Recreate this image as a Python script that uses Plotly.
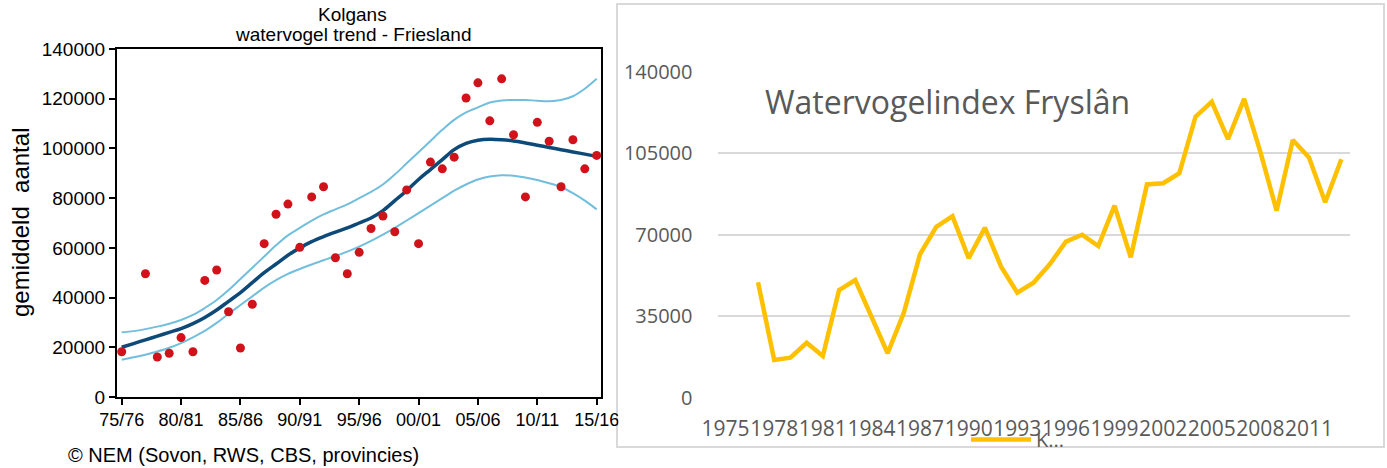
import plotly.graph_objects as go

W, H = 1387, 468

# ---------------- data: left chart (Kolgans, NEM trend) ----------------
point_years = [1975, 1977, 1978, 1979, 1980, 1981, 1982, 1983, 1984, 1985, 1986,
               1987, 1988, 1989, 1990, 1991, 1992, 1993, 1994, 1995, 1996, 1997,
               1998, 1999, 2000, 2001, 2002, 2003, 2004, 2005, 2006, 2007, 2008,
               2009, 2010, 2011, 2012, 2013, 2014, 2015]
point_values = [18200, 49600, 16100, 17600, 23900, 18200, 46900, 51100, 34300, 19700, 37300,
                61700, 73500, 77600, 60200, 80500, 84600, 56000, 49600, 58200, 67800, 72800,
                66500, 83300, 61700, 94500, 91800, 96500, 120300, 126400, 111100, 128000, 105500,
                80500, 110500, 102900, 84600, 103500, 91800, 97200]

trend_years = list(range(1975, 2016))
trend_values = [20000, 21500, 23000, 24500, 26000, 27500, 29500, 32000, 35000, 38500,
                42000, 46000, 50000, 53500, 57000, 60000, 62500, 64500, 66300, 68000,
                70000, 72000, 75000, 79000, 83000, 87500, 91500, 95500, 99500, 102000,
                103300, 103700, 103500, 103000, 102200, 101300, 100400, 99500, 98600, 97700,
                96800]
upper_values = [26000, 26500, 27300, 28300, 29500, 31000, 33000, 35800, 39000, 43000,
                47500, 52000, 56500, 61000, 65000, 68000, 71000, 73500, 75500, 77500,
                80000, 82500, 85500, 89500, 94000, 98500, 103000, 107500, 111500, 114500,
                116500, 118500, 119300, 119500, 119500, 119200, 119000, 119500, 121000, 124000,
                128000]
lower_values = [15000, 16000, 17000, 18300, 19800, 21700, 24000, 26600, 29800, 33500,
                37000, 40500, 44000, 47000, 49500, 51500, 53300, 55000, 56700, 58500,
                60500, 62800, 65300, 68000, 71000, 74000, 77000, 80000, 83000, 85500,
                87500, 88700, 89200, 89000, 88300, 87300, 86000, 84500, 82000, 79000,
                75500]

left_tick_years = [1975, 1980, 1985, 1990, 1995, 2000, 2005, 2010, 2015]
left_tick_labels = ["75/76", "80/81", "85/86", "90/91", "95/96", "00/01", "05/06", "10/11", "15/16"]
left_y_ticks = [0, 20000, 40000, 60000, 80000, 100000, 120000, 140000]

# ---------------- data: right chart (Watervogelindex Fryslân) ----------------
index_years = list(range(1975, 2014))
index_values = [None, None,
                49600, 16200, 17200, 23600, 17900, 46200, 50500, 34500, 19100, 36500,
                61700, 73400, 78000, 59900, 73000, 56300, 45100, 49400, 57300, 67000,
                70000, 65100, 82500, 60300, 91600, 92100, 96400, 120700, 127100, 111000,
                128300, 105600, 80300, 110700, 103200, 83900, 102400]
right_tick_years = list(range(1975, 2012, 3))
right_y_ticks = [0, 35000, 70000, 105000, 140000]


def px_x(p):
    return p / W


def px_y(p):
    return 1 - p / H


fig = go.Figure()

band_color = "#72bedd"
fig.add_trace(go.Scatter(x=trend_years, y=upper_values, mode="lines",
                         line=dict(color=band_color, width=2, shape="spline"),
                         showlegend=False, xaxis="x", yaxis="y"))
fig.add_trace(go.Scatter(x=trend_years, y=lower_values, mode="lines",
                         line=dict(color=band_color, width=2, shape="spline"),
                         showlegend=False, xaxis="x", yaxis="y"))
fig.add_trace(go.Scatter(x=trend_years, y=trend_values, mode="lines",
                         line=dict(color="#0d4a78", width=3.5, shape="spline"),
                         showlegend=False, xaxis="x", yaxis="y"))
fig.add_trace(go.Scatter(x=point_years, y=point_values, mode="markers",
                         marker=dict(color="#d0121b", size=9),
                         showlegend=False, xaxis="x", yaxis="y"))

fig.add_trace(go.Scatter(x=index_years, y=index_values, mode="lines", name="K...",
                         line=dict(color="#ffc000", width=4.5),
                         connectgaps=False, showlegend=True, xaxis="x2", yaxis="y2"))

LS = "Liberation Sans, Arial, sans-serif"
left_yfont = dict(family=LS, size=19, color="#000000")
left_xfont = dict(family=LS, size=18, color="#000000")
right_yfont = dict(family="Open Sans, sans-serif", size=20, color="#595959")
right_xfont = dict(family="Open Sans, sans-serif", size=21, color="#595959")

fig.update_layout(
    width=W, height=H,
    margin=dict(l=0, r=0, t=0, b=0, autoexpand=False),
    paper_bgcolor="white", plot_bgcolor="white",
    xaxis=dict(domain=[px_x(116.7), px_x(601.3)], range=[1974.58, 2015.39],
               tickvals=left_tick_years, ticktext=left_tick_labels, tickangle=0,
               ticks="outside", ticklen=6, tickwidth=1.5, tickcolor="#000",
               showline=True, linecolor="#000", linewidth=1.5, mirror=True,
               showgrid=False, zeroline=False, tickfont=left_xfont, anchor="y",
               automargin=False),
    yaxis=dict(domain=[px_y(397), px_y(49)], range=[0, 140000],
               tickvals=left_y_ticks, tickformat="d",
               ticks="outside", ticklen=6, tickwidth=1.5, tickcolor="#000",
               showline=True, linecolor="#000", linewidth=1.5, mirror=True,
               showgrid=False, zeroline=False, tickfont=left_yfont, anchor="x",
               automargin=False),
    xaxis2=dict(domain=[px_x(717.5), px_x(1349.5)], range=[1974.5, 2013.5],
                tickvals=right_tick_years, tickangle=0, ticks="", showline=False,
                showgrid=False, zeroline=False, tickfont=right_xfont,
                ticklabelstandoff=16, anchor="y2", automargin=False),
    yaxis2=dict(domain=[px_y(397.7), px_y(71.7)], range=[0, 140000],
                tickvals=right_y_ticks, tickformat="d", ticks="",
                showline=False, showgrid=True, gridcolor="#d9d9d9", gridwidth=2,
                zeroline=False, tickfont=right_yfont, ticklabelstandoff=24,
                anchor="x2", automargin=False),
    legend=dict(x=px_x(966), y=px_y(420), xanchor="left", yanchor="top",
                orientation="h", bgcolor="rgba(0,0,0,0)", font=right_yfont,
                itemwidth=60, tracegroupgap=0),
    shapes=[
        dict(type="rect", xref="paper", yref="paper",
             x0=px_x(617), x1=px_x(1384), y0=px_y(447), y1=px_y(4),
             line=dict(color="#d9d9d9", width=2), fillcolor="white", layer="below"),
        dict(type="rect", xref="paper", yref="paper",
             x0=px_x(618.5), x1=px_x(650), y0=px_y(436), y1=px_y(404),
             line=dict(width=0), fillcolor="white", layer="above"),
    ],
    annotations=[
        dict(text="Kolgans", xref="paper", yref="paper", x=px_x(352), y=px_y(14),
             xanchor="center", yanchor="middle", showarrow=False,
             font=dict(family=LS, size=19, color="#000")),
        dict(text="watervogel trend - Friesland", xref="paper", yref="paper",
             x=px_x(353), y=px_y(35), xanchor="center", yanchor="middle", showarrow=False,
             font=dict(family=LS, size=19, color="#000")),
        dict(text="gemiddeld  aantal", xref="paper", yref="paper", x=px_x(20), y=px_y(223),
             xanchor="center", yanchor="middle", textangle=-90, showarrow=False,
             font=dict(family=LS, size=24, color="#000")),
        dict(text="© NEM (Sovon, RWS, CBS, provincies)", xref="paper", yref="paper",
             x=px_x(66), y=px_y(455), xanchor="left", yanchor="middle", showarrow=False,
             font=dict(family=LS, size=20, color="#000")),
        dict(text="Watervogelindex Fryslân", xref="paper", yref="paper",
             x=px_x(763), y=px_y(101), xanchor="left", yanchor="middle", showarrow=False,
             font=dict(family="Open Sans, sans-serif", size=32, color="#595959")),
    ],
)

fig.write_html("out.html", config={"displayModeBar": False},
               post_script="document.body.style.margin='0';document.body.style.overflow='hidden';")
